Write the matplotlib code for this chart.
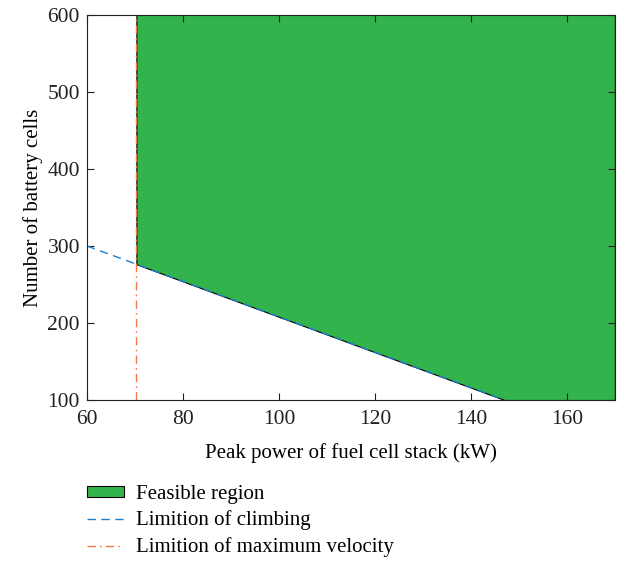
import numpy as np
import matplotlib
matplotlib.use('Agg')
import matplotlib.pyplot as plt

plt.rcParams['font.family'] = ['Liberation Serif', 'DejaVu Serif']

# climbing limit line (peak power kW, number of cells)
climb_x = [60, 147]
climb_y = [300, 100]
# max velocity limit (kW)
vmax_power = 70.3
x_range = [60, 170]
y_range = [100, 600]

fig = plt.figure(figsize=(6.3, 5.63), dpi=100)
ax = fig.add_axes([0.138, 0.2895, 0.838, 0.684])

# feasible region
xs = np.linspace(vmax_power, x_range[1], 200)
lower = np.interp(xs, climb_x, climb_y, right=y_range[0])
lower = np.maximum(lower, y_range[0])
ax.fill_between(xs, lower, y_range[1], facecolor='#33b34b', edgecolor='black', linewidth=0.8,
                label='Feasible region')

ax.plot(climb_x, climb_y, color='#1a7fd0', linewidth=1, dashes=(6, 4),
        label='Limition of climbing')
ax.plot([vmax_power, vmax_power], y_range, color='#ee7a4e', linewidth=1,
        dashes=(6, 3, 1.2, 3), label='Limition of maximum velocity')

ax.set_xlim(x_range)
ax.set_ylim(y_range)
ax.set_xticks(range(60, 171, 20))
ax.set_yticks(range(100, 601, 100))
ax.tick_params(direction='in', top=True, right=True, labelsize=15.5, colors='#222222',
               length=5, pad=5)
ax.tick_params(axis='x', pad=7)
for s in ax.spines.values():
    s.set_color('#222222')
ax.set_xlabel('Peak power of fuel cell stack (kW)', fontsize=15, labelpad=10)
ax.set_ylabel('Number of battery cells', fontsize=15, labelpad=3)

handles, labels = ax.get_legend_handles_labels()
fig.legend(handles, labels, loc='upper left', bbox_to_anchor=(0.125, 0.154), frameon=False,
           fontsize=15, handlelength=1.75, handleheight=0.45, handletextpad=0.6,
           labelspacing=0.33, borderaxespad=0)

fig.savefig('out.png', dpi=100)
